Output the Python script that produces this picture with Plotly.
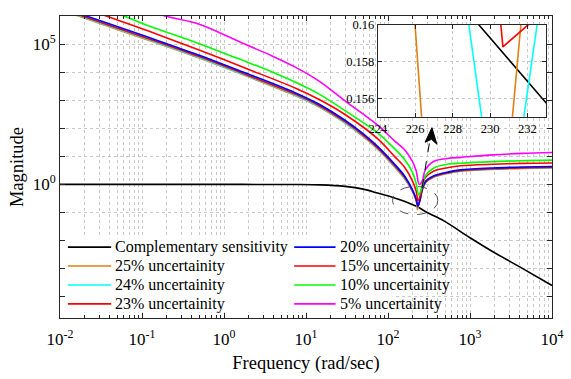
import plotly.graph_objects as go

# ---------------- data ----------------
freq_T = [0.01, 1, 7.6, 15, 30, 50, 75, 120, 158, 200, 229.4, 233.05, 300, 480, 1000, 1900, 4400, 10000]
mag_T = [1.0, 1.0, 0.99, 0.96, 0.85, 0.68, 0.49, 0.33, 0.25, 0.19, 0.16, 0.1557, 0.1, 0.05, 0.0126, 0.004, 0.001, 0.00025]

freq_25 = [0.01, 0.021, 0.12, 0.479, 1.905, 7.59, 14.3, 30.2, 50, 75.2, 120, 158.5, 197.7, 220.8,
           225.99, 226.34, 228.45, 231.2, 231.65, 238, 246, 261, 285, 363, 550, 766, 1905, 4365, 10000]
mag_25 = [1.75e6, 7.9e5, 1.38e5, 3.3e4, 7.1e3, 1.41e3, 578, 150, 50, 17.6, 4.2, 1.62, 0.573, 0.259,
          0.16, 0.155, 0.125, 0.155, 0.16, 0.2, 0.27, 0.6, 1.12, 1.82, 2.51, 2.95, 3.44, 3.72, 3.89]

freq_24 = [0.01, 0.021, 0.12, 0.479, 1.905, 7.59, 14.3, 30.2, 50, 75.2, 120, 158.5, 197.7, 220.8, 224.5,
           228.87, 229.54, 230.64, 231.81, 232.52, 238, 246, 261, 285, 363, 550, 766, 1905, 4365, 10000]
mag_24 = [1.83e6, 8.3e5, 1.45e5, 3.48e4, 7.4e3, 1.48e3, 605, 157, 52.5, 18.4, 4.4, 1.7, 0.586, 0.265, 0.21,
          0.16, 0.155, 0.147, 0.155, 0.16, 0.2, 0.275, 0.62, 1.15, 1.86, 2.57, 3.02, 3.52, 3.8, 3.98]

freq_23 = [0.01, 0.021, 0.12, 0.479, 1.905, 7.59, 14.3, 30.2, 50, 75.2, 120, 158.5, 197.7, 220.8, 226,
           230.58, 230.69, 232.04, 238, 246, 261, 285, 363, 550, 766, 1905, 4365, 10000]
mag_23 = [1.96e6, 8.9e5, 1.55e5, 3.72e4, 7.9e3, 1.58e3, 649, 168, 56, 19.7, 4.72, 1.82, 0.61, 0.277, 0.21,
          0.16, 0.1588, 0.16, 0.2, 0.28, 0.63, 1.17, 1.9, 2.63, 3.09, 3.6, 3.89, 4.07]

freq_20 = [0.01, 0.021, 0.12, 0.479, 1.905, 7.59, 14.3, 30.2, 50, 75.2, 120, 158.5, 197.7, 220.8, 226,
           231, 237, 246, 261, 285, 363, 550, 766, 1905, 4365, 10000]
mag_20 = [2.2e6, 1.0e6, 1.74e5, 4.18e4, 8.9e3, 1.78e3, 728, 189, 63, 22.1, 5.3, 2.04, 0.67, 0.30, 0.21,
          0.17, 0.2, 0.30, 0.67, 1.27, 2.04, 2.8, 3.3, 3.86, 4.17, 4.35]

freq_15 = [0.01, 0.0366, 0.12, 0.479, 1.905, 7.59, 14.3, 30.2, 75.2, 120, 158.5, 197.7, 220.8, 232,
           252, 261, 285, 363, 550, 766, 1905, 4365, 10000]
mag_15 = [3.9e6, 1.0e6, 2.9e5, 6.4e4, 1.32e4, 2.63e3, 1.08e3, 304, 42, 10, 4.2, 1.37, 0.57, 0.26,
          0.49, 0.85, 1.74, 3.0, 4.0, 4.6, 5.2, 5.6, 5.8]

freq_10 = [0.01, 0.0603, 0.12, 0.479, 1.905, 3.8, 7.59, 14.3, 30.2, 75.2, 120, 158.5, 197.7, 220.8, 237,
           261, 285, 363, 550, 766, 1905, 4365, 10000]
mag_10 = [6.6e6, 1.0e6, 4.5e5, 1.08e5, 2.3e4, 1.04e4, 4.27e3, 1.68e3, 417, 67, 18.9, 7.9, 2.8, 1.08, 0.42,
          0.85, 2.04, 3.86, 5.3, 5.7, 6.46, 7.0, 7.3]

freq_5 = [0.01, 0.192, 0.479, 1.905, 3.8, 7.59, 14.3, 30.2, 75.2, 120, 158.5, 197.7, 220.8, 240,
          261, 285, 363, 550, 766, 1905, 4365, 10000]
mag_5 = [1.5e7, 1.0e6, 5.3e5, 9.2e4, 3.86e4, 1.45e4, 4.9e3, 925, 127, 35.5, 17.4, 6.7, 3.0, 1.0,
         1.27, 3.3, 6.7, 8.5, 9.2, 11.3, 12.7, 13.7]

x_tick_vals = [1e-2, 1e-1, 1e0, 1e1, 1e2, 1e3, 1e4]
x_tick_text = ["10<sup>-2</sup>", "10<sup>-1</sup>", "10<sup>0</sup>", "10<sup>1</sup>",
               "10<sup>2</sup>", "10<sup>3</sup>", "10<sup>4</sup>"]
y_tick_vals = [1e-4, 1e-3, 1e-2, 1e-1, 1e0, 1e1, 1e2, 1e3, 1e4, 1e5, 1e6]
y_tick_text = [" ", " ", " ", " ", "10<sup>0</sup>", " ", " ", " ", " ", "10<sup>5</sup>", " "]
inset_x_ticks = [224, 226, 228, 230, 232]
inset_y_ticks = [0.156, 0.158, 0.16]
inset_y_text = ["0.156", "0.158", "0.16"]

# (name, freq, mag, color) in plotting order
series = [
    ("Complementary sensitivity", freq_T, mag_T, "#000000"),
    ("25% uncertainity", freq_25, mag_25, "#E07F12"),
    ("24% uncertainity", freq_24, mag_24, "#00FFFF"),
    ("23% uncertainity", freq_23, mag_23, "#FF0000"),
    ("20% uncertainity", freq_20, mag_20, "#0000FF"),
    ("15% uncertainity", freq_15, mag_15, "#FF0000"),
    ("10% uncertainity", freq_10, mag_10, "#00FF00"),
    ("5% uncertainity", freq_5, mag_5, "#FF00FF"),
]
# legend layout: two columns of four entries (indices into series)
legend_cols = [[0, 1, 2, 3], [4, 5, 6, 7]]

FONT = "'Liberation Serif', 'Times New Roman', Times, serif"
fig = go.Figure()
for name, f, m, c in series:
    fig.add_trace(go.Scatter(x=f, y=m, mode="lines", name=name, showlegend=False,
                             line=dict(color=c, width=1.6, shape="spline", smoothing=0.9),
                             xaxis="x", yaxis="y"))
for name, f, m, c in series:
    fig.add_trace(go.Scatter(x=f, y=m, mode="lines", name=name, showlegend=False,
                             line=dict(color=c, width=1.6), xaxis="x2", yaxis="y2"))

minor_x = [k * 10 ** e for e in range(-2, 4) for k in range(2, 10)]
grid = "#c9c9c9"
axc = "#262626"

fig.update_layout(
    width=571, height=379,
    margin=dict(l=60, r=11, t=7, b=61),
    paper_bgcolor="white", plot_bgcolor="white",
    font=dict(family=FONT, size=16, color="black"),
    showlegend=False,
    xaxis=dict(type="log", range=[-2, 4], domain=[0, 1],
               tickmode="array", tickvals=x_tick_vals, ticktext=x_tick_text,
               tickfont=dict(size=17), ticks="inside", ticklen=5, tickcolor=axc,
               ticklabelstandoff=6, ticklabeloverflow="allow",
               showline=True, linecolor=axc, linewidth=1, mirror="ticks",
               showgrid=True, gridcolor=grid, griddash="dot", gridwidth=1,
               minor=dict(tickvals=minor_x, ticks="inside", ticklen=3, tickcolor=axc,
                          showgrid=True, gridcolor=grid, griddash="dot", gridwidth=1),
               title=dict(text="Frequency (rad/sec)", font=dict(size=18.5), standoff=7),
               zeroline=False),
    yaxis=dict(type="log", range=[-4.76, 6], domain=[0, 1],
               tickmode="array", tickvals=y_tick_vals, ticktext=y_tick_text,
               tickfont=dict(size=17), ticks="inside", ticklen=5, tickcolor=axc,
               showline=True, linecolor=axc, linewidth=1, mirror="ticks",
               showgrid=True, gridcolor=grid, griddash="dot", gridwidth=1,
               title=dict(text="Magnitude", font=dict(size=18.5), standoff=4),
               zeroline=False),
    xaxis2=dict(range=[224, 233], domain=[0.646, 0.988], anchor="y2",
                tickmode="array", tickvals=inset_x_ticks, tickfont=dict(size=12.5),
                ticks="inside", ticklen=4, tickcolor=axc,
                showline=True, linecolor=axc, linewidth=1, mirror="ticks",
                showgrid=True, gridcolor=grid, griddash="dot", zeroline=False),
    yaxis2=dict(range=[0.155, 0.16], domain=[0.666, 0.971], anchor="x2",
                tickmode="array", tickvals=inset_y_ticks, ticktext=inset_y_text,
                tickfont=dict(size=12.5),
                ticks="inside", ticklen=4, tickcolor=axc,
                showline=True, linecolor=axc, linewidth=1, mirror="ticks",
                showgrid=True, gridcolor=grid, griddash="dot", zeroline=False),
)

# white background of the inset (covers main-plot traces)
fig.add_shape(type="rect", xref="x2", yref="y2", x0=224, x1=233, y0=0.155, y1=0.16,
              layer="below", fillcolor="white", line=dict(width=0))

def px(x):
    return (x - 60) / 500.0

def py(y):
    return (318 - y) / 311.0

# dashed ellipse around the notch
fig.add_shape(type="circle", xref="paper", yref="paper",
              x0=px(398), x1=px(444), y0=py(211.5), y1=py(182.5),
              line=dict(color="#555", width=1, dash="dash"), layer="above")
# dashed arrow shaft
fig.add_shape(type="line", xref="paper", yref="paper",
              x0=px(428), y0=py(184), x1=px(436), y1=py(134),
              line=dict(color="black", width=1, dash="dash"), layer="above")
# arrow head
fig.add_shape(type="path", xref="paper", yref="paper",
              path=f"M {px(438)} {py(122)} L {px(443)} {py(139)} L {px(437.5)} {py(134)} L {px(431)} {py(137)} Z",
              fillcolor="black", line=dict(color="black", width=1), layer="above")

# ---------------- legend (two columns, no border) ----------------
fig.add_shape(type="rect", xref="paper", yref="paper",
              x0=px(66), x1=px(398), y0=py(312), y1=py(236),
              fillcolor="white", line=dict(width=0), layer="above")
row_y = [245, 264.5, 284, 303.5]
col_line_x = [(68, 112), (298, 340)]
col_text_x = [115, 344]
for ci, col in enumerate(legend_cols):
    for ri, si in enumerate(col):
        name, _, _, c = series[si]
        fig.add_shape(type="line", xref="paper", yref="paper",
                      x0=px(col_line_x[ci][0]), x1=px(col_line_x[ci][1]),
                      y0=py(row_y[ri]), y1=py(row_y[ri]),
                      line=dict(color=c, width=1.6), layer="above")
        fig.add_annotation(xref="paper", yref="paper", x=px(col_text_x[ci]), y=py(row_y[ri]),
                           text=name, showarrow=False, xanchor="left", yanchor="middle",
                           font=dict(family=FONT, size=16, color="black"), borderpad=0)

fig.write_html("out.html")
